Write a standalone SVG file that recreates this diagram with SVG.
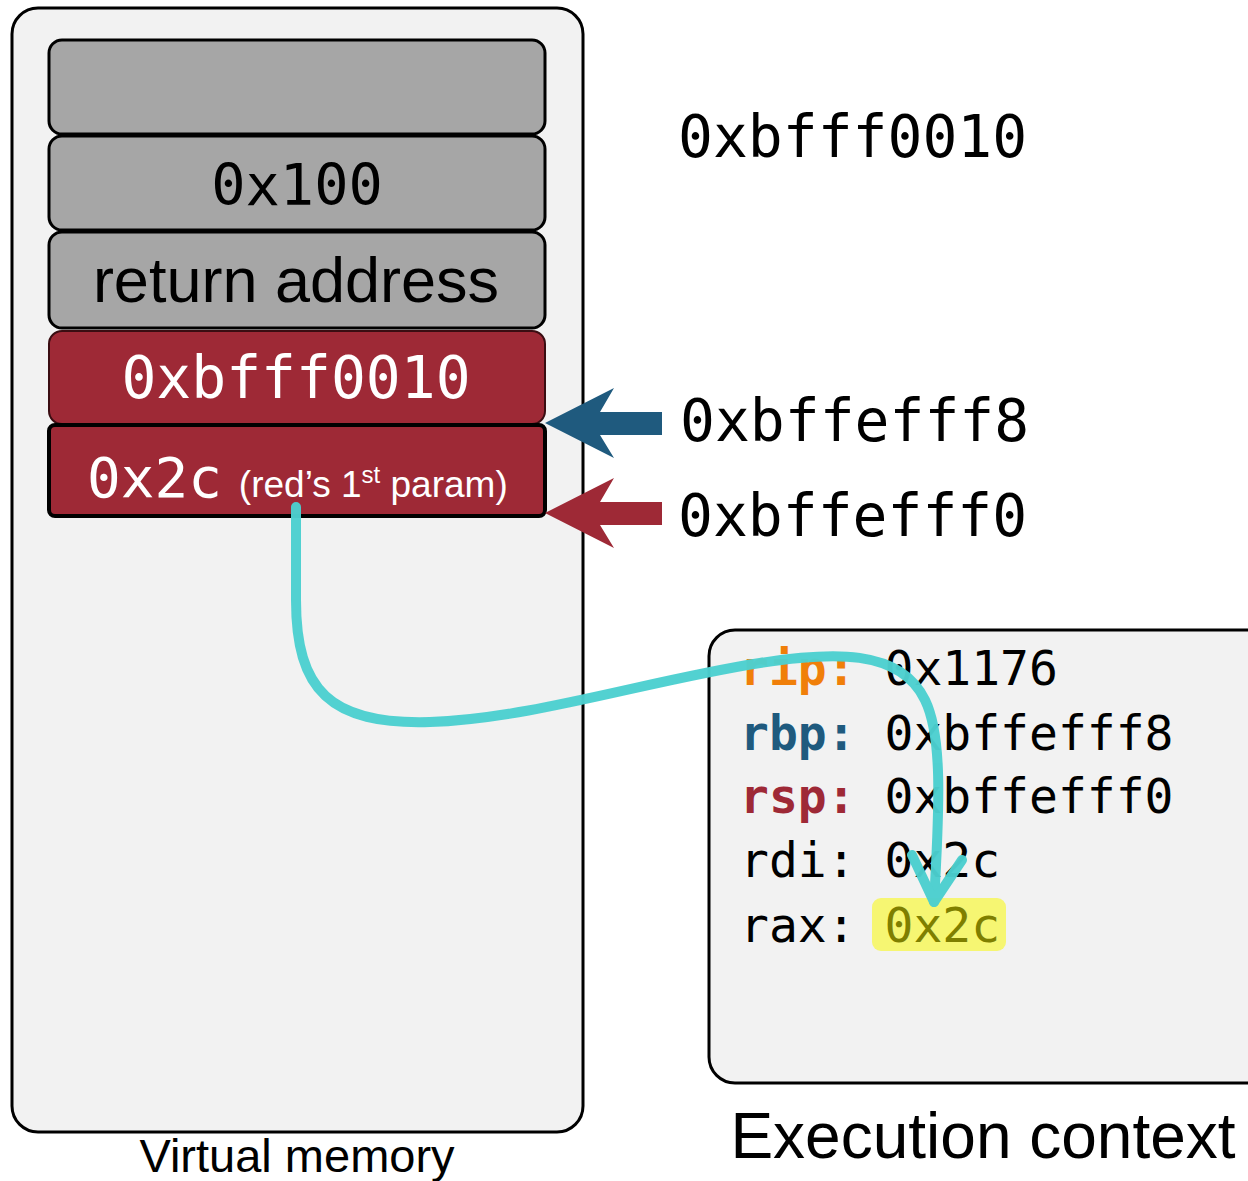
<svg xmlns="http://www.w3.org/2000/svg" width="1248" height="1181" viewBox="0 0 1248 1181">
<style>
.box{fill:#f2f2f2;stroke:#000;stroke-width:3}
.slot{fill:#a6a6a6;stroke:#000;stroke-width:3}
.red{fill:#9e2936;stroke:#3a0d12;stroke-width:2}
.mono{font-family:"DejaVu Sans Mono","Liberation Mono",monospace}
.sans{font-family:"Liberation Sans",Arial,sans-serif}
.reg{font-size:48px}
</style>
<rect width="1248" height="1181" fill="#fff"/>
<g id="virtual-memory">
<rect class="box" x="12" y="8" width="571" height="1124" rx="26"/>
<text class="sans" x="297" y="1172" font-size="47" text-anchor="middle">Virtual memory</text>
</g>
<g id="slot-top"><rect class="slot" x="49" y="40" width="496" height="94" rx="13"/></g>
<g id="slot-0x100"><rect class="slot" x="49" y="136" width="496" height="94" rx="13"/>
<text class="mono" x="297" y="205" font-size="57" text-anchor="middle">0x100</text></g>
<g id="slot-return"><rect class="slot" x="49" y="232" width="496" height="96" rx="13"/>
<text class="sans" x="296" y="302" font-size="63" text-anchor="middle">return address</text></g>
<g id="slot-rbp"><rect class="red" x="49" y="331" width="496" height="93" rx="13"/>
<text class="mono" x="296" y="398" font-size="58" text-anchor="middle" fill="#fff">0xbfff0010</text></g>
<g id="slot-rsp"><rect x="49" y="425" width="496" height="91" rx="6" fill="#9e2936" stroke="#000" stroke-width="4"/>
<text x="87" y="497" fill="#fff"><tspan class="mono" font-size="56">0x2c</tspan><tspan class="sans" font-size="37" dx="17">(red’s 1</tspan><tspan class="sans" font-size="24" dy="-14">st</tspan><tspan class="sans" font-size="37" dy="14"> param)</tspan></text></g>
<g id="label-top"><text class="mono" x="678" y="157" font-size="58">0xbfff0010</text></g>
<g id="label-rbp"><text class="mono" x="680" y="441" font-size="58">0xbffefff8</text></g>
<g id="label-rsp"><text class="mono" x="678" y="536" font-size="58">0xbffefff0</text></g>
<g id="execution-context">
<rect class="box" x="709" y="630" width="580" height="453" rx="26"/>
<rect x="872" y="898" width="134" height="53" rx="9" fill="#f5f56a" opacity="0.95"/>
<text class="mono reg" x="740" y="685"><tspan fill="#f07f09" font-weight="bold">rip:</tspan> 0x1176</text>
<text class="mono reg" x="740" y="750"><tspan fill="#1f5a7e" font-weight="bold">rbp:</tspan> 0xbffefff8</text>
<text class="mono reg" x="740" y="813"><tspan fill="#9e2936" font-weight="bold">rsp:</tspan> 0xbffefff0</text>
<text class="mono reg" x="740" y="877">rdi: 0x2c</text>
<text class="mono reg" x="740" y="942">rax: <tspan fill="#7f7f00">0x2c</tspan></text>
<text class="sans" x="983" y="1158" font-size="64" text-anchor="middle">Execution context</text>
</g>
<g id="connectors">
<path d="M662,412 H600 L614,388 L545,423 L614,458 L600,435 H662 Z" fill="#1f5a7e"/>
<path d="M662,502 H600 L614,478 L545,513 L614,548 L600,525 H662 Z" fill="#9e2936"/>
<g fill="none" stroke="#4ccfcf" stroke-width="10" stroke-linecap="round" stroke-linejoin="round" opacity="0.97">
<path d="M296,507 V600 C296,690 330,725 430,722 C530,719 650,680 760,663 C830,652 900,648 925,700 C942,735 940,800 934,902"/>
<path d="M912,855 L934,902 L962,860"/>
</g>
</g>
</svg>
